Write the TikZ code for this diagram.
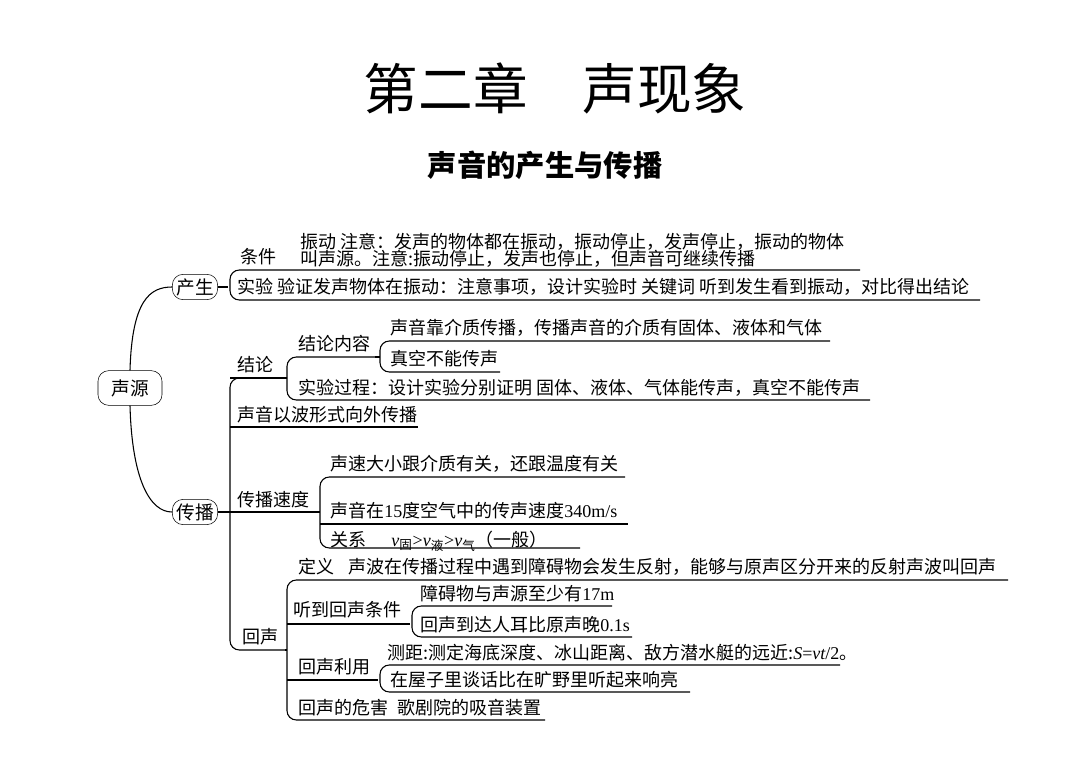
\documentclass[tikz,border=0pt]{standalone}
\usepackage{fontspec}
\setmainfont{Noto Sans CJK SC}
\newfontfamily\lat{Liberation Serif}
\begin{document}
\begin{tikzpicture}[x=0.75pt,y=-0.75pt,
  t/.style={anchor=base west,inner sep=0,font=\fontsize{13.5pt}{15pt}\selectfont},
  box/.style={draw,rounded corners=8pt,inner sep=3pt,font=\fontsize{14pt}{16pt}\selectfont},
  ln/.style={line width=0.8pt},
  br/.style={line width=0.8pt,rounded corners=7pt}]
\useasboundingbox (0,0) rectangle (1080,780);
\node[font=\fontsize{41pt}{48pt}\selectfont] (title) at (555,88) {第二章\hspace{1em}声现象};
\node[font=\bfseries\fontsize{22pt}{26pt}\selectfont] (sub) at (545,165) {声音的产生与传播};
\node[box,minimum width=48pt,minimum height=26pt] (root) at (130,388) {声源};
\node[box] (cs) at (195,287) {产生};
\node[box] (cb) at (195,512) {传播};
\draw[ln] (root.north) .. controls (132,300) and (150,287) .. (cs.west);
\draw[ln] (root.south) .. controls (132,480) and (150,512) .. (cb.west);
% 产生
\draw[ln] (cs.east) -- (228,287);
\draw[br] (860,270) -- (230,270) -- (230,300) -- (980,300);
\node[t] (tj) at (240,264) {条件};
\node[t] (zd1) at (300,249) {振动 注意：发声的物体都在振动，振动停止，发声停止，振动的物体};
\node[t] (zd2) at (300,266) {叫声源。注意:振动停止，发声也停止，但声音可继续传播};
\node[t] (sy) at (237,294) {实验 验证发声物体在振动：注意事项，设计实验时 关键词 听到发生看到振动，对比得出结论};
% 传播
\draw[ln] (cb.east) -- (230,512);
\draw[br] (287,378) -- (230,378) -- (230,650) -- (285,650);
\node[t] (jl) at (237,371) {结论};
\draw[br] (375,357) -- (287,357) -- (287,400) -- (870,400);
\draw[ln] (230,378) -- (287,378);
\node[t] (jlnr) at (298,350) {结论内容};
\draw[br] (830,341) -- (380,341) -- (380,372) -- (500,372);
\draw[ln] (375,357) -- (380,357);
\node[t] (a1) at (390,334) {声音靠介质传播，传播声音的介质有固体、液体和气体};
\node[t] (a2) at (390,365) {真空不能传声};
\node[t] (a3) at (298,394) {实验过程：设计实验分别证明 固体、液体、气体能传声，真空不能传声};
\draw[ln] (230,427) -- (418,427);
\node[t] (bo) at (237,421) {声音以波形式向外传播};
\draw[ln] (230,512) -- (320,512);
\node[t] (sd) at (237,506) {传播速度};
\draw[br] (625,477) -- (320,477) -- (320,548) -- (580,548);
\draw[ln] (320,524) -- (628,524);
\node[t] (s1) at (330,470) {声速大小跟介质有关，还跟温度有关};
\node[t] (s2) at (330,517) {声音在{\lat 15}度空气中的传声速度{\lat 340m/s}};
\node[t] (s3) at (330,546) {关系\hspace{1.4em}{\lat\itshape v}\textsubscript{固}{\lat >}{\lat\itshape v}\textsubscript{液}{\lat >}{\lat\itshape v}\textsubscript{气}（一般）};
% 回声
\node[t] (hs) at (242,643) {回声};
\draw[br] (1008,580) -- (287,580) -- (287,720) -- (545,720);
\draw[ln] (285,650) -- (287,650);
\node[t] (dy) at (298,573) {定义\hspace{0.8em}声波在传播过程中遇到障碍物会发生反射，能够与原声区分开来的反射声波叫回声};
\draw[ln] (287,624) -- (410,624);
\node[t] (tdh) at (293,616) {听到回声条件};
\draw[br] (612,606) -- (412,606) -- (412,637) -- (632,637);
\node[t] (h1) at (420,600) {障碍物与声源至少有{\lat 17m}};
\node[t] (h2) at (420,631) {回声到达人耳比原声晚{\lat 0.1s}};
\draw[ln] (287,680) -- (378,680);
\node[t] (hly) at (298,673) {回声利用};
\draw[br] (840,665) -- (380,665) -- (380,692) -- (690,692);
\node[t] (u1) at (387,659) {测距:测定海底深度、冰山距离、敌方潜水艇的远近:{\lat\itshape S}{\lat =}{\lat\itshape vt}{\lat /2}。};
\node[t] (u2) at (390,686) {在屋子里谈话比在旷野里听起来响亮};
\node[t] (wh) at (298,714) {回声的危害\hspace{0.5em}歌剧院的吸音装置};
\end{tikzpicture}
\end{document}
